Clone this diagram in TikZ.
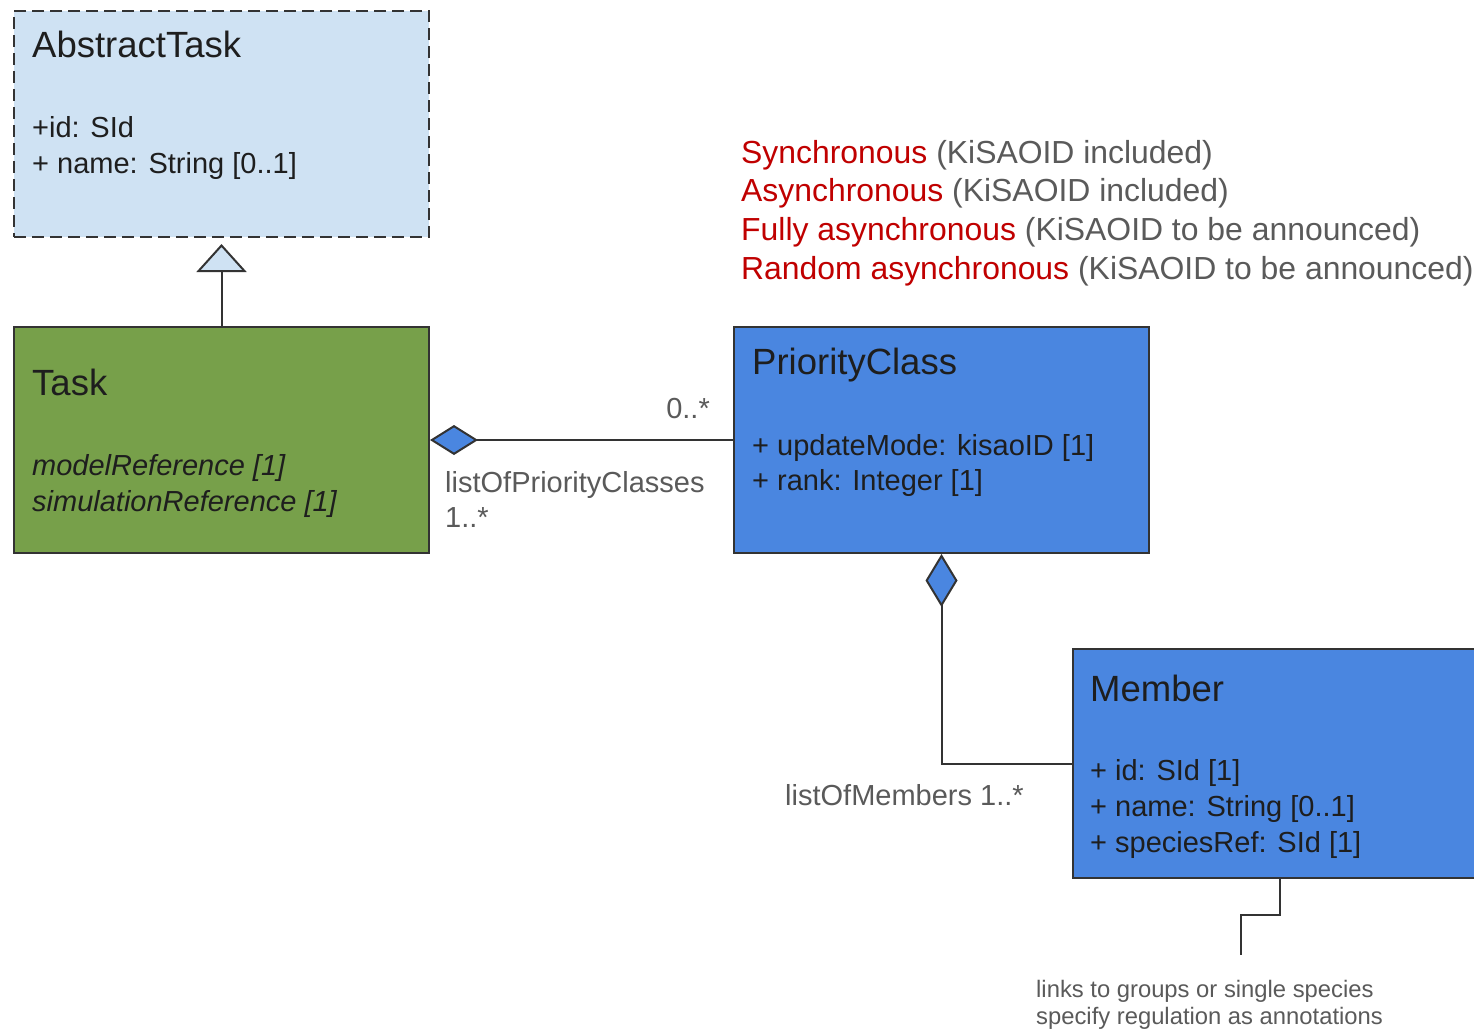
\documentclass[tikz,border=0pt]{standalone}
\usepackage{fontspec}
\setmainfont{Liberation Sans}
\usetikzlibrary{arrows.meta}
\definecolor{absfill}{HTML}{CFE2F3}
\definecolor{taskfill}{HTML}{77A04A}
\definecolor{pcfill}{HTML}{4A86E0}
\definecolor{edge}{HTML}{333333}
\definecolor{txt}{HTML}{1E1E1E}
\definecolor{kred}{HTML}{C00000}
\definecolor{kgray}{HTML}{5A5A5A}
\tikzset{
  classbox/.style={draw=edge, line width=2pt, anchor=north west, inner sep=0pt},
  title/.style={anchor=base west, inner sep=0pt, text=txt, font=\fontsize{36.5}{42}\selectfont},
  attr/.style={anchor=base west, inner sep=0pt, text=txt, font=\fontsize{29}{36}\selectfont},
  label/.style={anchor=base west, inner sep=0pt, text=kgray, font=\fontsize{29}{36}\selectfont},
  note/.style={anchor=base west, inner sep=0pt, text=kgray, font=\fontsize{23.8}{27}\selectfont},
  kisao/.style={anchor=base west, inner sep=0pt, font=\fontsize{31.9}{38}\selectfont},
  conn/.style={draw=edge, line width=2pt},
}
\begin{document}
\begin{tikzpicture}[x=1pt, y=-1pt]
\useasboundingbox (0,0) rectangle (1474,1028);
\fill[white] (0,0) rectangle (1474,1028);

% class boxes
\node[classbox, fill=absfill, dash pattern=on 12pt off 6pt, minimum width=415pt, minimum height=226pt] (abs) at (13,10) {};
\node[classbox, fill=taskfill, minimum width=415pt, minimum height=226pt] (task) at (13,326) {};
\node[classbox, fill=pcfill, minimum width=415pt, minimum height=226pt] (pc) at (733,326) {};
\node[classbox, fill=pcfill, minimum width=406pt, minimum height=229pt] (member) at (1072,648) {};

% AbstractTask
\node[title] (absT) at (32,57) {AbstractTask};
\node[attr] (absA1) at (32,137) {+id: SId};
\node[attr] (absA2) at (32,173) {+ name: String [0..1]};

% Task
\node[title] (taskT) at (32,395) {Task};
\node[attr, font=\fontsize{29}{36}\selectfont\itshape] (taskA1) at (32,475) {modelReference [1]};
\node[attr, font=\fontsize{29}{36}\selectfont\itshape] (taskA2) at (32,511) {simulationReference [1]};

% PriorityClass
\node[title] (pcT) at (752,374) {PriorityClass};
\node[attr] (pcA1) at (752,455) {+ updateMode: kisaoID [1]};
\node[attr] (pcA2) at (752,490) {+ rank: Integer [1]};

% Member
\node[title] (memT) at (1090,701) {Member};
\node[attr] (memA1) at (1090,780) {+ id: SId [1]};
\node[attr] (memA2) at (1090,816) {+ name: String [0..1]};
\node[attr] (memA3) at (1090,852) {+ speciesRef: SId [1]};

% update modes
\node[kisao] (k1) at (741,163) {\textcolor{kred}{Synchronous} \textcolor{kgray}{(KiSAOID included)}};
\node[kisao] (k2) at (741,201) {\textcolor{kred}{Asynchronous} \textcolor{kgray}{(KiSAOID included)}};
\node[kisao] (k3) at (741,240) {\textcolor{kred}{Fully asynchronous} \textcolor{kgray}{(KiSAOID to be announced)}};
\node[kisao] (k4) at (741,279) {\textcolor{kred}{Random asynchronous} \textcolor{kgray}{(KiSAOID to be announced)}};

% generalization
\draw[conn, -{Triangle[open, length=28pt, width=50pt, fill=absfill, line width=2pt]}, shorten >=6pt] (task.north) -- (abs.south);

% composition Task -> PriorityClass
\draw[conn, {Diamond[length=48pt, width=30pt, fill=pcfill, line width=2pt]}-] (task.east) -- (pc.west);
\node[label, anchor=base east] (m1) at (710,418) {0..*};
\node[label] (r1) at (445,492) {listOfPriorityClasses};
\node[label] (m2) at (445,527) {1..*};

% composition PriorityClass -> Member
\draw[conn, {Diamond[length=53pt, width=32pt, fill=pcfill, line width=2pt]}-] (pc.south) |- (member.west);
\node[label] (r2) at (785,805) {listOfMembers 1..*};

% note on species references
\coordinate (noteStart) at (1280,877);
\coordinate (noteEnd) at (1241,955);
\draw[conn] (noteStart) -- (1280,915) -| (noteEnd);
\node[note] (n1) at (1036,997) {links to groups or single species};
\node[note] (n2) at (1036,1024) {specify regulation as annotations};
\end{tikzpicture}
\end{document}
